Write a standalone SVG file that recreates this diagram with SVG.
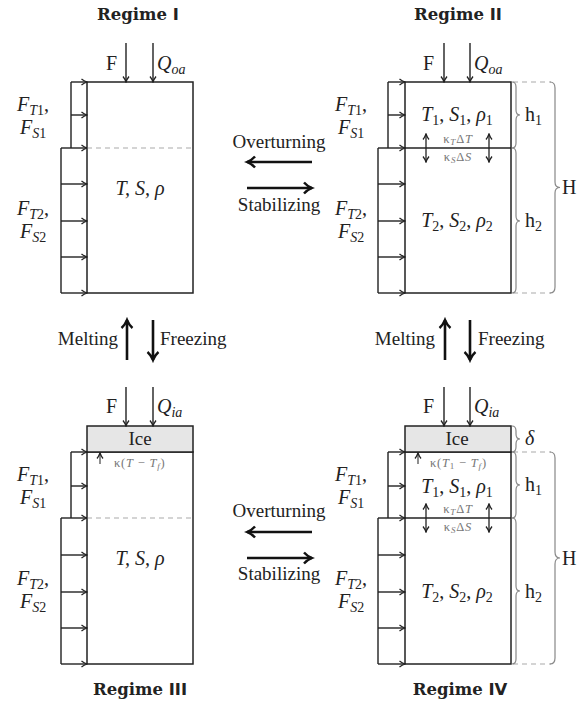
<svg xmlns="http://www.w3.org/2000/svg" width="585" height="702" viewBox="0 0 585 702">
<style>
.t{font-family:"Liberation Serif",serif;font-size:20px;fill:#222}
.w{font-family:"Liberation Serif",serif;font-size:19px;fill:#222}
.i{font-style:italic}
.s{font-size:14px}
.k{font-family:"Liberation Serif",serif;font-size:12.5px;fill:#777;letter-spacing:0.8px}
.ks{font-size:9px}
.ttl{font-family:"DejaVu Serif",serif;font-weight:bold;font-size:16.5px;fill:#222}
.num{font-family:"DejaVu Sans",sans-serif;font-weight:bold}
.box{fill:#fff;stroke:#222;stroke-width:1.5}
.ice{fill:#e6e6e6;stroke:#222;stroke-width:1.5}
.ln{fill:none;stroke:#222;stroke-width:1.4}
.fl{fill:none;stroke:#222;stroke-width:1.4;marker-end:url(#ah)}
.dash{fill:none;stroke:#aaa;stroke-width:1.2;stroke-dasharray:5,4}
.br{fill:none;stroke:#888;stroke-width:1.2}
.big{fill:none;stroke:#111;stroke-width:2.6;marker-end:url(#bh)}
.dbl{fill:none;stroke:#222;stroke-width:1.3;marker-start:url(#ah2);marker-end:url(#ah2)}
.up{fill:none;stroke:#444;stroke-width:1.2;marker-end:url(#ah2)}
</style>
<defs>
<marker id="ah" markerUnits="userSpaceOnUse" markerWidth="8" markerHeight="8" refX="7" refY="4" orient="auto"><path d="M1.5,1 Q4,3 7,4 Q4,5 1.5,7" fill="none" stroke="#222" stroke-width="1.3"/></marker>
<marker id="ah2" markerUnits="userSpaceOnUse" markerWidth="8" markerHeight="8" refX="7" refY="4" orient="auto-start-reverse"><path d="M1.5,1 Q4,3 7,4 Q4,5 1.5,7" fill="none" stroke="#222" stroke-width="1.3"/></marker>
<marker id="bh" markerUnits="userSpaceOnUse" markerWidth="14" markerHeight="14" refX="11" refY="7" orient="auto"><path d="M3,1.5 Q6,5 11,7 Q6,9 3,12.5" fill="none" stroke="#111" stroke-width="2.4"/></marker>
</defs>

<!-- Regime I -->
<g id="regime1">
<text class="ttl" x="138" y="20" text-anchor="middle">Regime <tspan class="num">I</tspan></text>
<rect class="box" x="87" y="82" width="106" height="211"/>
<line class="dash" x1="87" y1="148" x2="193" y2="148"/>
<text class="t i" x="140" y="195" text-anchor="middle">T, S, ρ</text>
</g>
<g id="flux1">
<path class="ln" d="M71,82 V148 M61,148 V293"/>
<line class="fl" x1="71" y1="82" x2="87" y2="82"/>
<line class="fl" x1="71" y1="115" x2="87" y2="115"/>
<line class="fl" x1="61" y1="148" x2="87" y2="148"/>
<line class="fl" x1="61" y1="184" x2="87" y2="184"/>
<line class="fl" x1="61" y1="221" x2="87" y2="221"/>
<line class="fl" x1="61" y1="257" x2="87" y2="257"/>
<line class="fl" x1="61" y1="293" x2="87" y2="293"/>
<line class="fl" x1="126" y1="43" x2="126" y2="82"/>
<line class="fl" x1="153" y1="43" x2="153" y2="82"/>
<text class="t" x="106" y="70">F</text>
<text class="t i" x="157" y="70">Q<tspan class="s" dy="4">oa</tspan></text>
<text class="t" x="17" y="111"><tspan class="i">F</tspan><tspan class="s" dy="4"><tspan class="i">T</tspan>1</tspan><tspan dy="-4">,</tspan></text>
<text class="t" x="20" y="134"><tspan class="i">F</tspan><tspan class="s" dy="4"><tspan class="i">S</tspan>1</tspan></text>
<text class="t" x="17" y="215"><tspan class="i">F</tspan><tspan class="s" dy="4"><tspan class="i">T</tspan>2</tspan><tspan dy="-4">,</tspan></text>
<text class="t" x="20" y="238"><tspan class="i">F</tspan><tspan class="s" dy="4"><tspan class="i">S</tspan>2</tspan></text>
</g>

<!-- Regime II -->
<g id="regime2">
<text class="ttl" x="458" y="20" text-anchor="middle">Regime <tspan class="num">II</tspan></text>
<rect class="box" x="405" y="82" width="106" height="211"/>
<line class="ln" x1="405" y1="148" x2="511" y2="148"/>
<text class="t" x="457" y="121" text-anchor="middle"><tspan class="i">T</tspan><tspan class="s" dy="4">1</tspan><tspan dy="-4">, </tspan><tspan class="i">S</tspan><tspan class="s" dy="4">1</tspan><tspan dy="-4">, </tspan><tspan class="i">ρ</tspan><tspan class="s" dy="4">1</tspan></text>
<text class="k" x="458" y="143" text-anchor="middle">κ<tspan class="ks i" dy="2">T</tspan><tspan dy="-2">Δ</tspan><tspan class="i">T</tspan></text>
<text class="k" x="458" y="161" text-anchor="middle">κ<tspan class="ks i" dy="2">S</tspan><tspan dy="-2">Δ</tspan><tspan class="i">S</tspan></text>
<line class="dbl" x1="426" y1="134" x2="426" y2="162"/>
<line class="dbl" x1="489" y1="134" x2="489" y2="162"/>
<text class="t" x="457" y="227" text-anchor="middle"><tspan class="i">T</tspan><tspan class="s" dy="4">2</tspan><tspan dy="-4">, </tspan><tspan class="i">S</tspan><tspan class="s" dy="4">2</tspan><tspan dy="-4">, </tspan><tspan class="i">ρ</tspan><tspan class="s" dy="4">2</tspan></text>
<line class="dash" x1="513" y1="82" x2="551" y2="82"/>
<line class="dash" x1="513" y1="293" x2="551" y2="293"/>
<path class="br" d="M512,82 Q516,82 516,87 L516,110 Q516,115 520,115 Q516,115 516,120 L516,143 Q516,148 512,148"/>
<path class="br" d="M512,148 Q516,148 516,153 L516,216 Q516,221 520,221 Q516,221 516,226 L516,288 Q516,293 512,293"/>
<path class="br" d="M550,82 Q555,82 555,88 L555,182 Q555,187.5 560,187.5 Q555,187.5 555,193 L555,287 Q555,293 550,293"/>
<text class="t" x="525" y="121">h<tspan class="s" dy="4">1</tspan></text>
<text class="t" x="525" y="227">h<tspan class="s" dy="4">2</tspan></text>
<text class="t" x="562" y="194">H</text>
</g>
<g id="flux2">
<path class="ln" d="M388,82 V148 M378,148 V293"/>
<line class="fl" x1="388" y1="82" x2="405" y2="82"/>
<line class="fl" x1="388" y1="115" x2="405" y2="115"/>
<line class="fl" x1="378" y1="148" x2="405" y2="148"/>
<line class="fl" x1="378" y1="184" x2="405" y2="184"/>
<line class="fl" x1="378" y1="221" x2="405" y2="221"/>
<line class="fl" x1="378" y1="257" x2="405" y2="257"/>
<line class="fl" x1="378" y1="293" x2="405" y2="293"/>
<line class="fl" x1="444" y1="43" x2="444" y2="82"/>
<line class="fl" x1="470" y1="43" x2="470" y2="82"/>
<text class="t" x="423" y="70">F</text>
<text class="t i" x="474" y="70">Q<tspan class="s" dy="4">oa</tspan></text>
<text class="t" x="335" y="111"><tspan class="i">F</tspan><tspan class="s" dy="4"><tspan class="i">T</tspan>1</tspan><tspan dy="-4">,</tspan></text>
<text class="t" x="338" y="134"><tspan class="i">F</tspan><tspan class="s" dy="4"><tspan class="i">S</tspan>1</tspan></text>
<text class="t" x="335" y="215"><tspan class="i">F</tspan><tspan class="s" dy="4"><tspan class="i">T</tspan>2</tspan><tspan dy="-4">,</tspan></text>
<text class="t" x="338" y="238"><tspan class="i">F</tspan><tspan class="s" dy="4"><tspan class="i">S</tspan>2</tspan></text>
</g>

<!-- Regime III -->
<g id="regime3">
<text class="ttl" x="140" y="695" text-anchor="middle">Regime <tspan class="num">III</tspan></text>
<rect class="box" x="87" y="452" width="106" height="212"/>
<rect class="ice" x="87" y="426" width="106" height="26"/>
<text class="w" x="140" y="445" text-anchor="middle">Ice</text>
<line class="dash" x1="87" y1="518" x2="193" y2="518"/>
<line class="up" x1="100" y1="464" x2="100" y2="453"/>
<text class="k" x="114" y="467">κ(<tspan class="i">T</tspan> − <tspan class="i">T</tspan><tspan class="ks i" dy="2">f</tspan><tspan dy="-2">)</tspan></text>
<text class="t i" x="140" y="565" text-anchor="middle">T, S, ρ</text>
</g>
<g id="flux3">
<path class="ln" d="M71,452 V518 M61,518 V664"/>
<line class="fl" x1="71" y1="452" x2="87" y2="452"/>
<line class="fl" x1="71" y1="486" x2="87" y2="486"/>
<line class="fl" x1="61" y1="518" x2="87" y2="518"/>
<line class="fl" x1="61" y1="555" x2="87" y2="555"/>
<line class="fl" x1="61" y1="592" x2="87" y2="592"/>
<line class="fl" x1="61" y1="628" x2="87" y2="628"/>
<line class="fl" x1="61" y1="664" x2="87" y2="664"/>
<line class="fl" x1="126" y1="387" x2="126" y2="426"/>
<line class="fl" x1="153" y1="387" x2="153" y2="426"/>
<text class="t" x="106" y="413">F</text>
<text class="t i" x="157" y="413">Q<tspan class="s" dy="4">ia</tspan></text>
<text class="t" x="17" y="481"><tspan class="i">F</tspan><tspan class="s" dy="4"><tspan class="i">T</tspan>1</tspan><tspan dy="-4">,</tspan></text>
<text class="t" x="20" y="504"><tspan class="i">F</tspan><tspan class="s" dy="4"><tspan class="i">S</tspan>1</tspan></text>
<text class="t" x="17" y="585"><tspan class="i">F</tspan><tspan class="s" dy="4"><tspan class="i">T</tspan>2</tspan><tspan dy="-4">,</tspan></text>
<text class="t" x="20" y="608"><tspan class="i">F</tspan><tspan class="s" dy="4"><tspan class="i">S</tspan>2</tspan></text>
</g>

<!-- Regime IV -->
<g id="regime4">
<text class="ttl" x="460" y="695" text-anchor="middle">Regime <tspan class="num">IV</tspan></text>
<rect class="box" x="405" y="452" width="106" height="212"/>
<rect class="ice" x="405" y="426" width="106" height="26"/>
<text class="w" x="457" y="445" text-anchor="middle">Ice</text>
<line class="ln" x1="405" y1="518" x2="511" y2="518"/>
<line class="up" x1="418" y1="464" x2="418" y2="453"/>
<text class="k" x="430" y="467">κ(<tspan class="i">T</tspan><tspan class="ks" dy="2">1</tspan><tspan dy="-2"> − </tspan><tspan class="i">T</tspan><tspan class="ks i" dy="2">f</tspan><tspan dy="-2">)</tspan></text>
<text class="t" x="457" y="493" text-anchor="middle"><tspan class="i">T</tspan><tspan class="s" dy="4">1</tspan><tspan dy="-4">, </tspan><tspan class="i">S</tspan><tspan class="s" dy="4">1</tspan><tspan dy="-4">, </tspan><tspan class="i">ρ</tspan><tspan class="s" dy="4">1</tspan></text>
<text class="k" x="458" y="513" text-anchor="middle">κ<tspan class="ks i" dy="2">T</tspan><tspan dy="-2">Δ</tspan><tspan class="i">T</tspan></text>
<text class="k" x="458" y="531" text-anchor="middle">κ<tspan class="ks i" dy="2">S</tspan><tspan dy="-2">Δ</tspan><tspan class="i">S</tspan></text>
<line class="dbl" x1="426" y1="504" x2="426" y2="532"/>
<line class="dbl" x1="489" y1="504" x2="489" y2="532"/>
<text class="t" x="457" y="598" text-anchor="middle"><tspan class="i">T</tspan><tspan class="s" dy="4">2</tspan><tspan dy="-4">, </tspan><tspan class="i">S</tspan><tspan class="s" dy="4">2</tspan><tspan dy="-4">, </tspan><tspan class="i">ρ</tspan><tspan class="s" dy="4">2</tspan></text>
<line class="dash" x1="513" y1="452" x2="551" y2="452"/>
<line class="dash" x1="513" y1="664" x2="551" y2="664"/>
<path class="br" d="M512,426 Q516,426 516,431 L516,434 Q516,439 520,439 Q516,439 516,444 L516,447 Q516,452 512,452"/>
<path class="br" d="M512,452 Q516,452 516,457 L516,480 Q516,485 520,485 Q516,485 516,490 L516,513 Q516,518 512,518"/>
<path class="br" d="M512,518 Q516,518 516,523 L516,586 Q516,591 520,591 Q516,591 516,596 L516,659 Q516,664 512,664"/>
<path class="br" d="M550,452 Q555,452 555,458 L555,552 Q555,558 560,558 Q555,558 555,564 L555,658 Q555,664 550,664"/>
<text class="t i" x="525" y="445">δ</text>
<text class="t" x="525" y="491">h<tspan class="s" dy="4">1</tspan></text>
<text class="t" x="525" y="598">h<tspan class="s" dy="4">2</tspan></text>
<text class="t" x="562" y="565">H</text>
</g>
<g id="flux4">
<path class="ln" d="M388,452 V518 M378,518 V664"/>
<line class="fl" x1="388" y1="452" x2="405" y2="452"/>
<line class="fl" x1="388" y1="486" x2="405" y2="486"/>
<line class="fl" x1="378" y1="518" x2="405" y2="518"/>
<line class="fl" x1="378" y1="555" x2="405" y2="555"/>
<line class="fl" x1="378" y1="592" x2="405" y2="592"/>
<line class="fl" x1="378" y1="628" x2="405" y2="628"/>
<line class="fl" x1="378" y1="664" x2="405" y2="664"/>
<line class="fl" x1="444" y1="387" x2="444" y2="426"/>
<line class="fl" x1="470" y1="387" x2="470" y2="426"/>
<text class="t" x="423" y="413">F</text>
<text class="t i" x="474" y="413">Q<tspan class="s" dy="4">ia</tspan></text>
<text class="t" x="335" y="481"><tspan class="i">F</tspan><tspan class="s" dy="4"><tspan class="i">T</tspan>1</tspan><tspan dy="-4">,</tspan></text>
<text class="t" x="338" y="504"><tspan class="i">F</tspan><tspan class="s" dy="4"><tspan class="i">S</tspan>1</tspan></text>
<text class="t" x="335" y="585"><tspan class="i">F</tspan><tspan class="s" dy="4"><tspan class="i">T</tspan>2</tspan><tspan dy="-4">,</tspan></text>
<text class="t" x="338" y="608"><tspan class="i">F</tspan><tspan class="s" dy="4"><tspan class="i">S</tspan>2</tspan></text>
</g>

<!-- Transitions -->
<g id="connectors">
<line class="big" x1="312" y1="162" x2="247" y2="162"/>
<line class="big" x1="247" y1="188" x2="312" y2="188"/>
<line class="big" x1="312" y1="532" x2="247" y2="532"/>
<line class="big" x1="247" y1="558" x2="312" y2="558"/>
<line class="big" x1="127" y1="360" x2="127" y2="320"/>
<line class="big" x1="153" y1="320" x2="153" y2="360"/>
<line class="big" x1="445" y1="360" x2="445" y2="320"/>
<line class="big" x1="470" y1="320" x2="470" y2="360"/>
<text class="w" x="279" y="148" text-anchor="middle">Overturning</text>
<text class="w" x="279" y="211" text-anchor="middle">Stabilizing</text>
<text class="w" x="279" y="517" text-anchor="middle">Overturning</text>
<text class="w" x="279" y="580" text-anchor="middle">Stabilizing</text>
<text class="w" x="118" y="345" text-anchor="end">Melting</text>
<text class="w" x="160" y="345">Freezing</text>
<text class="w" x="435" y="345" text-anchor="end">Melting</text>
<text class="w" x="478" y="345">Freezing</text>
</g>
</svg>
